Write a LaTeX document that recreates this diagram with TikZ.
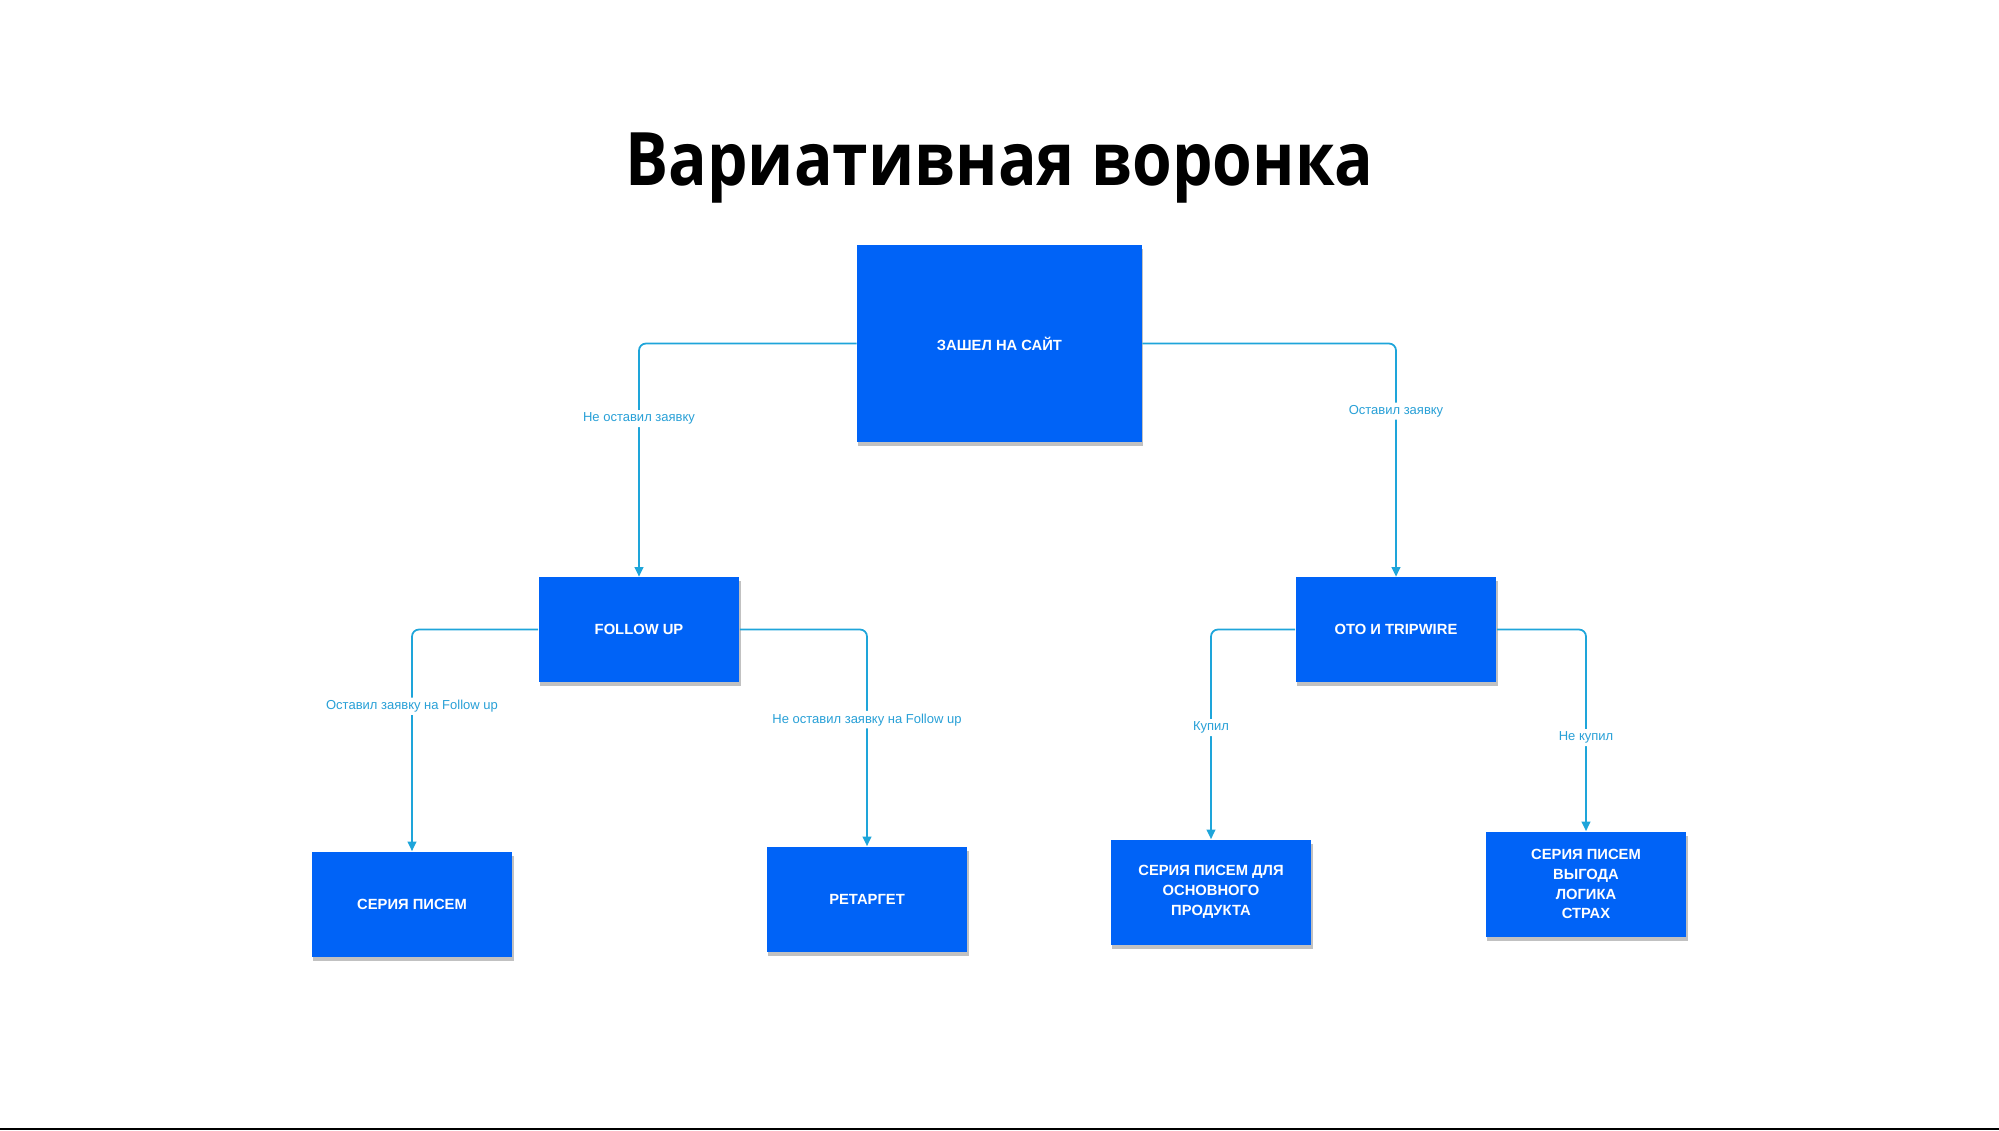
\documentclass[tikz,border=0pt]{standalone}
\usepackage{fontspec}
\setmainfont{Liberation Sans}
\newfontfamily\titlefont{Open Sans}[FakeStretch=0.87]
\usetikzlibrary{arrows.meta,shadows}

\definecolor{boxblue}{RGB}{0,99,247}
\definecolor{linkcyan}{RGB}{30,165,218}
\definecolor{lblcyan}{RGB}{40,160,215}

\tikzset{
    stage/.style={fill=boxblue, text=white, align=center, inner sep=0pt,
        minimum width=4.02cm, minimum height=2.1cm,
        font=\bfseries\fontsize{8.4}{11.3}\selectfont,
        drop shadow={shadow xshift=0.6pt, shadow yshift=-2.5pt, opacity=0.3, fill=black!80}},
    bigstage/.style={stage, minimum width=5.7cm, minimum height=3.94cm},
    link/.style={draw=linkcyan, line width=1pt, rounded corners=4pt,
        -{Triangle[length=5.5pt,width=5pt]}},
    lbl/.style={fill=white, text=lblcyan, inner sep=1.5pt, font=\fontsize{7.4}{8}\selectfont}
}

\begin{document}
\begin{tikzpicture}[x=0.02cm, y=-0.02cm]

        \useasboundingbox (0,0) rectangle (1999,1130);

        % Title
        \node[anchor=base, font=\titlefont\bfseries\fontsize{42}{48}\selectfont] (title) at (999.5,185) {Вариативная воронка};

        % Stages
        \node[bigstage] (site) at (999.5,343.5) {ЗАШЕЛ НА САЙТ};
        \node[stage] (follow) at (639,629.5) {FOLLOW UP};
        \node[stage] (oto) at (1396,629.5) {OTO И TRIPWIRE};
        \node[stage] (letters) at (412,904) {СЕРИЯ ПИСЕМ};
        \node[stage] (retarget) at (867,899) {РЕТАРГЕТ};
        \node[stage] (product) at (1211,892) {СЕРИЯ ПИСЕМ ДЛЯ\\ОСНОВНОГО\\ПРОДУКТА};
        \node[stage] (benefit) at (1586,884) {СЕРИЯ ПИСЕМ\\ВЫГОДА\\ЛОГИКА\\СТРАХ};

        % Branches
        \draw[link] (site.west) -| node[lbl, pos=0.661] {Не оставил заявку} (follow.north);
        \draw[link] (site.east) -| node[lbl, pos=0.645] {Оставил заявку} (oto.north);
        \draw[link] (follow.west) -| node[lbl, pos=0.673] {Оставил заявку на Follow up} (letters.north);
        \draw[link] (follow.east) -| node[lbl, pos=0.708] {Не оставил заявку на Follow up} (retarget.north);
        \draw[link] (oto.west) -| node[lbl, pos=0.734] {Купил} (product.north);
        \draw[link] (oto.east) -| node[lbl, pos=0.768] {Не купил} (benefit.north);

        % Bottom rule
        \fill[black] (0,1127.5) rectangle (1999,1130);

    \end{tikzpicture}
\end{document}
